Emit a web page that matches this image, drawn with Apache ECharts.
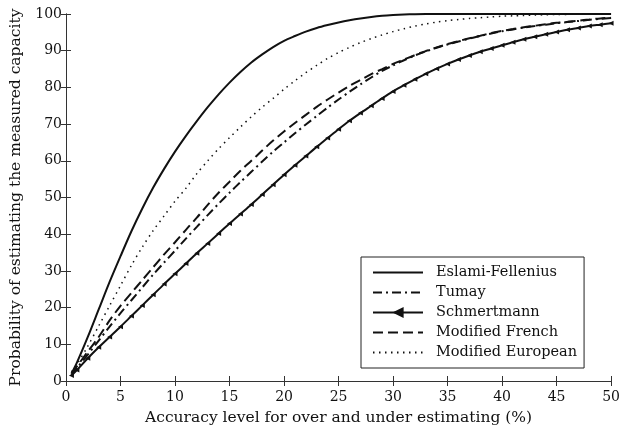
<!DOCTYPE html>
<html>
<head>
<meta charset="utf-8">
<script src="https://cdn.jsdelivr.net/npm/echarts@6/dist/echarts.min.js"></script>
<style>html,body{margin:0;padding:0;background:#fff}#c{width:623px;height:432px}</style>
</head>
<body>
<div id="c"></div>
<script>
const accuracy = [0.5,1,2,3,4,5,6,7,8,9,10,11,12,13,14,15,16,17,18,19,20,21,22,23,24,25,26,27,28,29,30,31,32,33,34,35,36,37,38,39,40,41,42,43,44,45,46,47,48,49,50];
const eslamiFellenius = [2,5,12,19.5,27,34,40.8,47,52.7,57.8,62.5,66.8,70.8,74.6,78.1,81.3,84.2,86.8,89,91,92.7,94,95.2,96.2,97,97.7,98.3,98.8,99.2,99.5,99.7,99.85,99.95,100,100,100,100,100,100,100,100,100,100,100,100,100,100,100,100,100,100];
const tumay = [1.5,3.5,7.2,11,14.8,18.5,22,25.5,29,32.3,35.5,38.8,42,45.2,48.3,51.3,54.2,57,59.8,62.5,65,67.5,69.9,72.2,74.5,76.7,78.8,80.8,82.7,84.5,86,87.4,88.7,89.8,90.8,91.7,92.5,93.3,94,94.7,95.3,95.8,96.3,96.7,97.1,97.5,97.8,98.1,98.4,98.7,98.9];
const schmertmann = [1.5,3,6.2,9.2,12,14.8,17.7,20.6,23.5,26.4,29.2,32,34.8,37.5,40.2,42.9,45.5,48.1,50.8,53.5,56.2,58.8,61.3,63.8,66.2,68.6,70.9,73,75,77,78.9,80.6,82.2,83.7,85.1,86.4,87.6,88.7,89.7,90.6,91.5,92.3,93.1,93.8,94.5,95.1,95.7,96.2,96.7,97.1,97.5];
const modifiedFrench = [2,4,8,12,16.5,20.5,24,27.5,31,34.5,37.8,41.2,44.5,48,51.3,54.3,57.3,60,62.8,65.5,68,70.3,72.5,74.7,76.7,78.6,80.4,82,83.6,85,86.4,87.6,88.8,89.9,90.9,91.8,92.6,93.4,94.1,94.8,95.4,95.9,96.4,96.8,97.2,97.6,97.9,98.2,98.5,98.8,99];
const modifiedEuropean = [2.5,4.5,9.5,15,20.5,26,31.5,36.5,41,45,49,52.5,56.5,60,63.3,66.3,69.2,72,74.6,77,79.5,81.8,84,86,87.9,89.5,90.9,92.2,93.3,94.3,95.2,96,96.7,97.3,97.8,98.2,98.5,98.8,99,99.2,99.4,99.5,99.6,99.7,99.8,99.85,99.9,99.93,99.95,99.98,100];
const seriesNames = ['Eslami-Fellenius','Tumay','Schmertmann','Modified French','Modified European'];
const xTitle = 'Accuracy level for over and under estimating (%)';
const yTitle = 'Probability of estimating the measured capacity';

const font = 'DejaVu Serif';
const ink = '#111';
const pair = arr => accuracy.map((x,i)=>[x,arr[i]]);

const axisCommon = {
  axisLine:{show:true,lineStyle:{color:'#333',width:1}},
  axisTick:{show:true,inside:true,length:5,lineStyle:{color:'#333'}},
  splitLine:{show:false},
};
const chart = echarts.init(document.getElementById('c'));
chart.setOption({
  animation:false,
  backgroundColor:'#fff',
  grid:{left:66,right:9,top:14,bottom:51},
  xAxis:[
    Object.assign({type:'value',min:0,max:50,interval:5,position:'bottom',
      name:xTitle,nameLocation:'middle',nameGap:29,
      nameTextStyle:{fontFamily:font,fontSize:15.5,color:ink},
      axisLabel:{fontFamily:font,fontSize:14,color:ink,margin:9}},axisCommon),
    Object.assign({type:'value',min:0,max:50,interval:5,position:'top',axisLabel:{show:false}},axisCommon)
  ],
  yAxis:[
    Object.assign({type:'value',min:0,max:100,interval:10,position:'left',
      name:yTitle,nameLocation:'middle',nameGap:41,
      nameTextStyle:{fontFamily:font,fontSize:15.5,color:ink},
      axisLabel:{fontFamily:font,fontSize:14,color:ink,margin:4}},axisCommon),
    Object.assign({type:'value',min:0,max:100,interval:10,position:'right',axisLabel:{show:false}},axisCommon)
  ],
  legend:{
    orient:'vertical',left:361,top:257,
    backgroundColor:'#fff',borderColor:'#222',borderWidth:1,
    padding:[8,7,8,11],
    itemWidth:50,itemHeight:14,itemGap:5,
    textStyle:{fontFamily:font,fontSize:14.5,color:ink,padding:[0,0,0,8]},
    data:seriesNames.map(n => n === 'Schmertmann' ? {name:n} : {name:n,itemStyle:{opacity:0}})
  },
  series:[
    {name:seriesNames[0],type:'line',data:pair(eslamiFellenius),symbol:'none',smooth:0.3,
     lineStyle:{color:ink,width:2,type:'solid'},itemStyle:{color:ink}},
    {name:seriesNames[1],type:'line',data:pair(tumay),symbol:'none',smooth:0.3,
     lineStyle:{color:ink,width:2,type:[9,4,2,4]},itemStyle:{color:ink}},
    {name:seriesNames[2],type:'line',data:pair(schmertmann),symbol:'triangle',symbolSize:5,symbolRotate:90,showSymbol:true,smooth:0.3,
     lineStyle:{color:ink,width:2,type:'solid'},itemStyle:{color:ink}},
    {name:seriesNames[3],type:'line',data:pair(modifiedFrench),symbol:'none',smooth:0.3,
     lineStyle:{color:ink,width:2,type:[10,5]},itemStyle:{color:ink}},
    {name:seriesNames[4],type:'line',data:pair(modifiedEuropean),symbol:'none',smooth:0.3,
     lineStyle:{color:ink,width:1.5,type:[1.5,4.5]},itemStyle:{color:ink}}
  ]
});
</script>
</body>
</html>
